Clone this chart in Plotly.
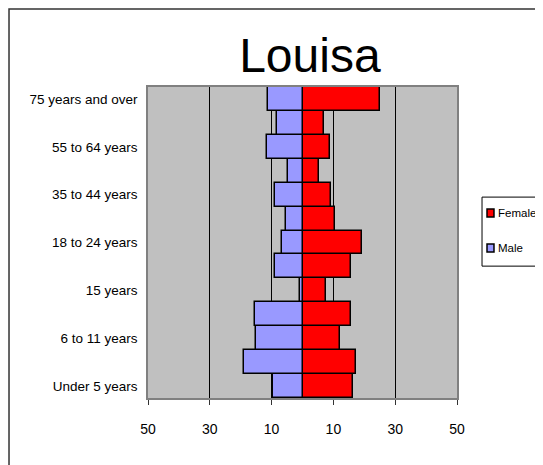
import plotly.graph_objects as go

# age groups, bottom to top
ages = ["Under 5 years", "5 years", "6 to 11 years", "12 to 14 years", "15 years",
        "16 and 17 years", "18 to 24 years", "25 to 34 years", "35 to 44 years",
        "45 to 54 years", "55 to 64 years", "65 to 74 years", "75 years and over"]
male = [9.7, 18.9, 15.2, 15.3, 0.8, 8.8, 6.6, 5.2, 8.8, 4.7, 11.6, 8.4, 11.3]
female = [16.5, 17.4, 12.1, 15.7, 7.7, 15.7, 19.4, 10.5, 9.3, 5.2, 8.8, 6.8, 25.0]
tick_vals = [-50, -30, -10, 10, 30, 50]
tick_text = ["50", "30", "10", "10", "30", "50"]
series_names = ["Female", "Male"]
series_colors = ["#FF0000", "#9999FF"]

font_main = "Liberation Sans, Arial"

fig = go.Figure()
fig.add_trace(go.Bar(y=ages, x=female, name="Female", orientation="h",
                     marker=dict(color=series_colors[0], line=dict(color="black", width=1.5))))
fig.add_trace(go.Bar(y=ages, x=[-v for v in male], name="Male", orientation="h",
                     marker=dict(color=series_colors[1], line=dict(color="black", width=1.5))))

# hand-drawn legend box (the original is clipped at the right edge)
shapes = [
    dict(type="rect", xref="paper", yref="paper", x0=-0.4498, x1=1.6, y0=-0.4, y1=1.2508,
         line=dict(color="#333333", width=1.5)),
    dict(type="rect", xref="paper", yref="paper", x0=1.081, x1=1.3, y0=0.424, y1=0.646,
         line=dict(color="black", width=1), fillcolor="white"),
]
annotations = []
for i, (name, col) in enumerate(zip(series_names, series_colors)):
    yc = 0.5949 - i * 0.1126
    shapes.append(dict(type="rect", xref="paper", yref="paper", x0=1.0971, x1=1.1197,
                       y0=yc - 0.0129, y1=yc + 0.0129, fillcolor=col,
                       line=dict(color="black", width=1.5)))
    annotations.append(dict(text=name, xref="paper", yref="paper", x=1.1262, y=yc,
                            xanchor="left", yanchor="middle", showarrow=False,
                            font=dict(family=font_main, size=11.5, color="black")))

fig.update_layout(
    width=543, height=465,
    margin=dict(l=140, r=94, t=79, b=75, autoexpand=False),
    barmode="overlay", bargap=0, showlegend=False,
    plot_bgcolor="#C0C0C0", paper_bgcolor="white",
    title=dict(text="Louisa", x=0.556, xanchor="center", y=1 - 47 / 465, yanchor="middle",
               font=dict(family=font_main, size=48, color="black")),
    shapes=shapes, annotations=annotations,
)
fig.update_xaxes(range=[-50, 50], tickvals=tick_vals, ticktext=tick_text, automargin=False,
                 showgrid=True, gridcolor="black", gridwidth=1,
                 showline=True, linecolor="#808080", linewidth=1.5, mirror=True,
                 ticks="outside", ticklen=5, tickcolor="#333333",
                 ticklabelstandoff=12, zeroline=False,
                 tickfont=dict(family=font_main, size=14, color="black"))
fig.update_yaxes(categoryorder="array", categoryarray=ages, tickvals=ages[::2], automargin=False,
                 showgrid=False, showline=True, linecolor="#808080", linewidth=1.5,
                 mirror=True, ticks="", ticklabelstandoff=6,
                 tickfont=dict(family=font_main, size=13.5, color="black"))

fig.write_html("out.html")
